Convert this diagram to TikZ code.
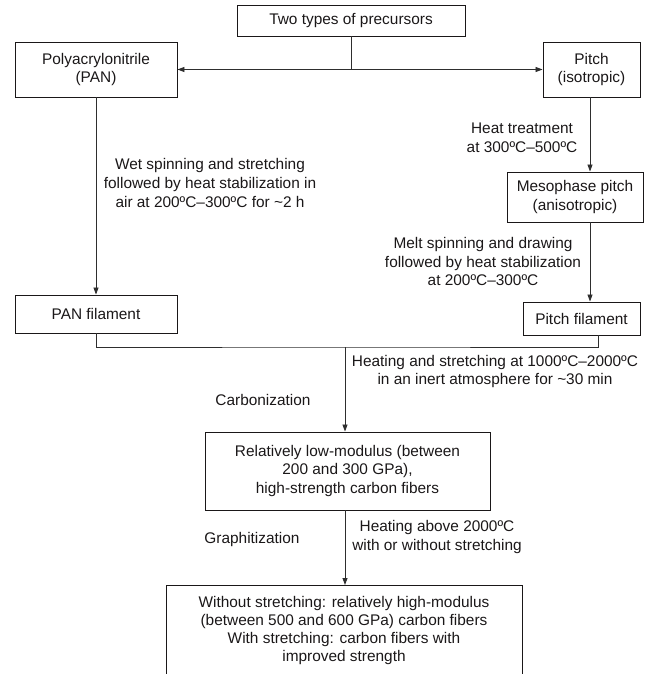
\documentclass[tikz,border=0pt]{standalone}
\usepackage{fontspec}
\setmainfont{Liberation Sans}
\usetikzlibrary{arrows.meta}
\definecolor{ink}{HTML}{1A1718}
\definecolor{wire}{HTML}{2E2E2E}
\begin{document}
\begin{tikzpicture}[x=1pt,y=-1pt,
  every node/.style={text=ink,font=\fontsize{15.4}{18.6}\selectfont,align=center,inner sep=0pt},
  box/.style={draw=ink,line width=0.9pt},
  lbl/.style={},
  conn/.style={draw=wire,line width=0.85pt},
  arr/.style={conn,-{Triangle[length=7pt,width=5pt]}}]
\useasboundingbox (0,0) rectangle (649,674);
% boxes
\node[box,minimum width=228,minimum height=31] (top) at (351,20.5) {Two types of precursors};
\node[box,minimum width=162,minimum height=55] (pan) at (96,69.5) {Polyacrylonitrile\\(PAN)};
\node[box,minimum width=97,minimum height=55] (pitch) at (591.5,69.5) {Pitch\\(isotropic)};
\node[box,minimum width=136,minimum height=50] (meso) at (575,197) {Mesophase pitch\\(anisotropic)};
\node[box,minimum width=162,minimum height=38] (panfil) at (96,314) {PAN filament};
\node[box,minimum width=117,minimum height=33] (pfil) at (581.5,318.5) {Pitch filament};
\node[box,minimum width=285,minimum height=78] (low) at (347.5,471) {Relatively low-modulus (between\\200 and 300 GPa),\\high-strength carbon fibers};
\node[box,minimum width=356,minimum height=110,anchor=north] (final) at (344,585) {};
\node[font=\fontsize{15.4}{18}\selectfont] (finaltxt) at (344,631) {Without stretching: relatively high-modulus\\(between 500 and 600 GPa) carbon fibers\\With stretching: carbon fibers with\\improved strength};
% labels
\node[lbl] (l1) at (210,183) {Wet spinning and stretching\\followed by heat stabilization in\\air at 200ºC–300ºC for \textasciitilde2 h};
\node[lbl] (l2) at (522,137.5) {Heat treatment\\at 300ºC–500ºC};
\node[lbl] (l3) at (483,261.5) {Melt spinning and drawing\\followed by heat stabilization\\at 200ºC–300ºC};
\node[lbl] (l4) at (495,371.5) {Heating and stretching at 1000ºC–2000ºC\\in an inert atmosphere for \textasciitilde30 min};
\node[lbl] (l5) at (263,400) {Carbonization};
\node[lbl] (l6) at (437,537) {Heating above 2000ºC\\with or without stretching};
\node[lbl] (l7) at (252,540) {Graphitization};
% connectors
\coordinate (split) at (351,69.5);
\coordinate (join) at (345,347);
\draw[conn] (top.south) -- (split);
\draw[conn,{Triangle[length=7pt,width=5pt]}-{Triangle[length=7pt,width=5pt]}] (pan.east) -- (pitch.west);
\draw[arr] (pan.south) -- (panfil.north);
\draw[arr] ([xshift=-1.5pt]pitch.south) -- ([xshift=-1.5pt]pitch.south |- meso.north);
\draw[arr] ([xshift=-1.5pt]pitch.south |- meso.south) -- ([xshift=-1.5pt]pitch.south |- pfil.north);
\draw[conn] (panfil.south) |- (join) -| ([xshift=16.5pt]pfil.south);
\draw[arr] (join) -- (join |- low.north);
\draw[arr] (join |- low.south) -- (join |- final.north);
\end{tikzpicture}
\end{document}
